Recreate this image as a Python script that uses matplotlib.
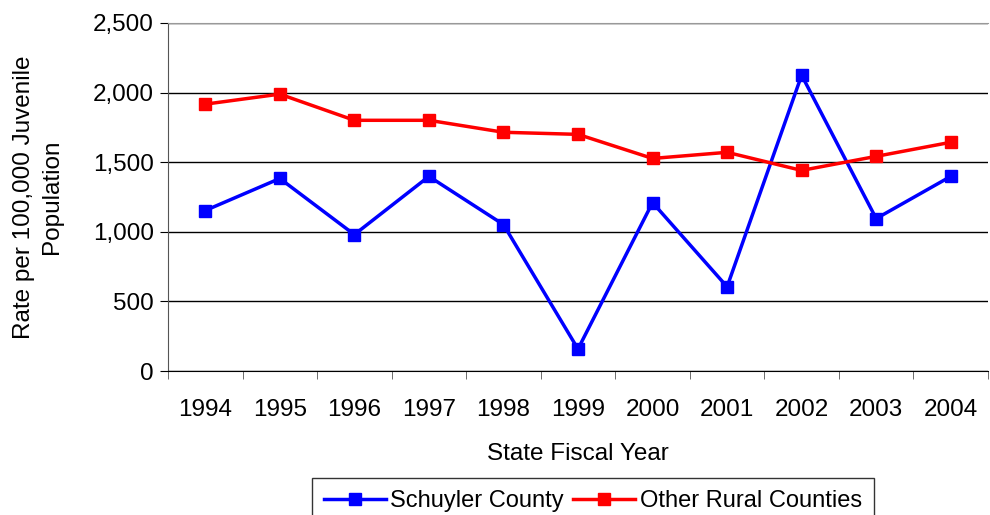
import numpy as np
import matplotlib
matplotlib.use("Agg")
import matplotlib.pyplot as plt
from matplotlib.ticker import FuncFormatter

plt.rcParams['font.family'] = ['Liberation Sans', 'DejaVu Sans']

years = ["1994", "1995", "1996", "1997", "1998", "1999",
         "2000", "2001", "2002", "2003", "2004"]
schuyler = [1153, 1383, 980, 1398, 1052, 158, 1210, 605, 2125, 1095, 1398]
other_rural = [1917, 1989, 1801, 1801, 1715, 1700, 1527, 1571, 1441, 1542, 1643]

FS = 17.5

fig = plt.figure(figsize=(9.9, 5.15), dpi=100)
ax = fig.add_axes([168 / 990, 1 - 371 / 515, (988 - 168) / 990, (371 - 23) / 515])

x = np.arange(len(years))
ax.plot(x, schuyler, color="#0000ff", lw=2.5, marker="s", ms=8, label="Schuyler County")
ax.plot(x, other_rural, color="#ff0000", lw=2.5, marker="s", ms=8, label="Other Rural Counties")

ax.set_xlim(-0.5, len(years) - 0.5)
ax.set_ylim(0, 2500)
ax.set_yticks(np.arange(0, 2501, 500))
ax.yaxis.set_major_formatter(FuncFormatter(lambda v, p: f"{v:,.0f}"))
ax.set_xticks(x)
ax.set_xticklabels(years)
ax.set_xticks(np.arange(-0.5, len(years), 1), minor=True)
ax.tick_params(axis="x", which="major", length=0, pad=20, labelsize=FS)
ax.tick_params(axis="x", which="minor", length=6, color="#555555")
ax.tick_params(axis="y", length=6, labelsize=FS, pad=4)

ax.grid(axis="y", color="black", lw=1)
ax.set_axisbelow(True)
ax.spines["right"].set_visible(False)
ax.spines["top"].set_color("#999999")
ax.spines["left"].set_color("#555555")
ax.spines["bottom"].set_color("black")

ax.set_xlabel("State Fiscal Year", fontsize=FS, labelpad=16)
ax.set_ylabel("Rate per 100,000 Juvenile\nPopulation", fontsize=FS, labelpad=22,
              linespacing=1.3)

leg = fig.legend(loc="lower center", bbox_to_anchor=(593 / 990, -0.04), ncol=2,
                 fontsize=17, frameon=True, fancybox=False, edgecolor="black",
                 handlelength=2.6, handletextpad=0.2, columnspacing=0.4, borderpad=0.5)
leg.get_frame().set_linewidth(1)

fig.savefig("out.png", dpi=100)
